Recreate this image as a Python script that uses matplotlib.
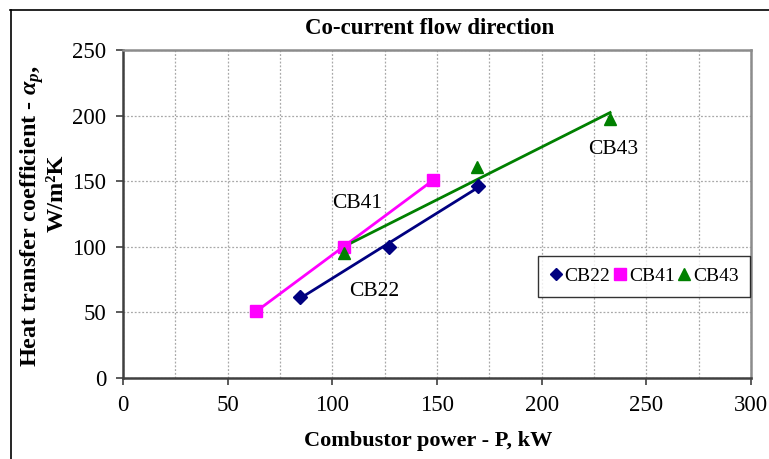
import matplotlib
matplotlib.use('Agg')
import matplotlib.pyplot as plt
import numpy as np
from matplotlib.ticker import MultipleLocator
from matplotlib.lines import Line2D

plt.rcParams['font.family'] = 'Liberation Serif'
plt.rcParams['mathtext.fontset'] = 'custom'
plt.rcParams['mathtext.rm'] = 'Liberation Serif:bold'
plt.rcParams['mathtext.it'] = 'Liberation Serif:italic:bold'
plt.rcParams['mathtext.bf'] = 'Liberation Serif:bold'

# combustor power [kW] and heat transfer coefficient [W/m2K]
cb22_p = [84.5, 127, 169.5]
cb22_a = [62, 100, 146.5]
cb41_p = [63.5, 105.5, 148]
cb41_a = [51, 99.5, 151]
cb43_p = [105.7, 169.3, 232.7]
cb43_a = [95.5, 161, 197.5]

series = [
    ('CB22', cb22_p, cb22_a, '#000080', 'D', 7),
    ('CB41', cb41_p, cb41_a, '#ff00ff', 's', 9),
    ('CB43', cb43_p, cb43_a, '#008000', '^', 9),
]

fig = plt.figure(figsize=(7.69, 4.59), dpi=100)
ax = fig.add_axes([123 / 769, 1 - 378 / 459, 628 / 769, 328 / 459])

for name, p, a, col, mk, ms in series:
    # linear trend line over the measured range
    k, b = np.polyfit(p, a, 1)
    xs = np.array([min(p), max(p)])
    ax.plot(xs, k * xs + b, color=col, lw=2, zorder=3)
    ax.plot(p, a, linestyle='none', marker=mk, color=col, ms=ms,
            label=name, zorder=4)

ax.text(112, 133, 'CB41', fontsize=15.5, ha='center', va='center')
ax.text(120, 66, 'CB22', fontsize=15.5, ha='center', va='center')
ax.text(234, 174, 'CB43', fontsize=15.5, ha='center', va='center')

ax.set_xlim(0, 300)
ax.set_ylim(0, 250)
ax.xaxis.set_major_locator(MultipleLocator(50))
ax.xaxis.set_minor_locator(MultipleLocator(25))
ax.yaxis.set_major_locator(MultipleLocator(50))
ax.grid(True, which='both', axis='x', color='#a8a8a8', ls=(0, (1.5, 1.5)), lw=0.9)
ax.grid(True, which='major', axis='y', color='#a8a8a8', ls=(0, (1.5, 1.5)), lw=0.9)
ax.tick_params(which='minor', length=0)
ax.tick_params(which='major', length=5, width=1.2, color='#404040',
               labelsize=16.5, pad=7)

for s in ['left', 'bottom']:
    ax.spines[s].set_color('#404040')
    ax.spines[s].set_linewidth(1.8)
for s in ['top', 'right']:
    ax.spines[s].set_color('#8c8c8c')
    ax.spines[s].set_linewidth(1.8)

leg = ax.legend(loc='center', bbox_to_anchor=(0.83, 0.31), ncol=3,
                fontsize=14, frameon=True, fancybox=False, handlelength=0.6,
                handletextpad=0.15, columnspacing=0.2, borderpad=0.6,
                borderaxespad=0, markerscale=0.9)
leg.get_frame().set_edgecolor('black')
leg.get_frame().set_linewidth(1.0)

fig.text(430 / 769, 1 - 28 / 459, 'Co-current flow direction', fontsize=16.5,
         fontweight='bold', ha='center', va='center')
fig.text(428 / 769, 1 - 441 / 459, 'Combustor power - P, kW', fontsize=16,
         fontweight='bold', ha='center', va='center')
fig.text(32 / 769, 1 - 216 / 459, r'Heat transfer coefficient - $\alpha_{p}$,',
         fontsize=17.5, fontweight='bold', ha='center', va='center', rotation=90)
fig.text(57 / 769, 1 - 193 / 459, 'W/m²K', fontsize=17.5, fontweight='bold',
         ha='center', va='center', rotation=90)

# outer chart frame
fig.add_artist(Line2D([10 / 769, 1], [1 - 10 / 459, 1 - 10 / 459],
                      color='black', lw=1.2))
fig.add_artist(Line2D([11 / 769, 11 / 769], [0, 1 - 10 / 459],
                      color='black', lw=1.2))

fig.savefig('out.png', dpi=100)
